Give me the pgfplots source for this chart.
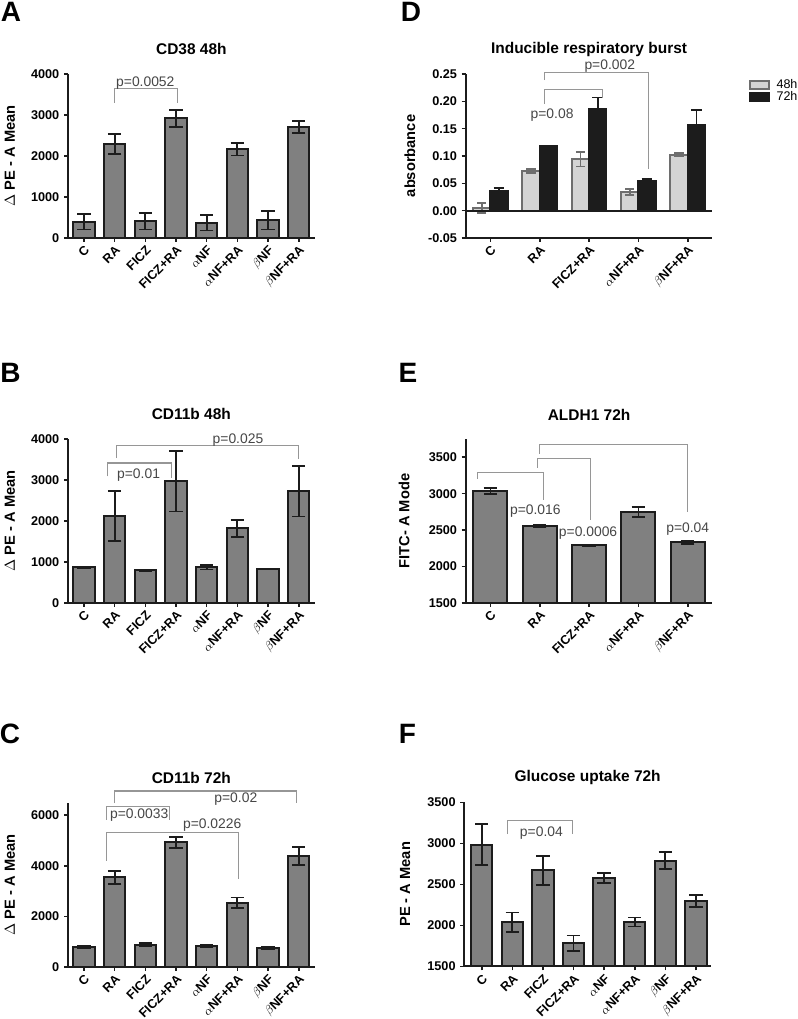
\documentclass[border=0pt]{standalone}
\usepackage{pgfplots}
\pgfplotsset{compat=1.18}
\usepackage{fontspec}
\setmainfont{Liberation Sans}

\definecolor{barfill}{RGB}{128,128,128}
\definecolor{baredge}{RGB}{28,28,28}
\definecolor{brk}{RGB}{150,150,150}
\definecolor{ptxt}{RGB}{70,70,70}
\definecolor{lightbar}{RGB}{212,212,212}
\definecolor{lightedge}{RGB}{110,110,110}

\newcommand\tickfont{\fontsize{9.5}{10}\selectfont\bfseries}
\newcommand\pfont{\fontsize{10.4}{11}\selectfont}
\newcommand\panelfont{\fontsize{21}{21}\selectfont\bfseries}

\tikzset{brkline/.style={brk, line width=0.8pt}}

\pgfplotsset{
  panel/.style={
    scale only axis, width=185pt, height=123pt,
    axis lines=left, axis line style={-, line width=1.3pt, baredge},
    tick align=outside, major tick length=3pt,
    tick style={line width=1.2pt, baredge},
    clip mode=individual,
    title style={font=\fontsize{11.6}{12}\selectfont\bfseries, at={(axis description cs:0.5,1)}, anchor=center, yshift=12.4pt},
    ylabel style={font=\fontsize{11}{12}\selectfont\bfseries, at={(axis description cs:-0.236,0.5)}, anchor=center},
    yticklabel style={font=\tickfont},
    xticklabel style={font=\tickfont, rotate=45, anchor=north east, inner sep=1.5pt},
  },
  eight/.style={xmin=-0.52, xmax=7.52, xtick={0,...,7},
    xticklabels={C, RA, FICZ, FICZ+RA, $\alpha$NF, $\alpha$NF+RA, $\beta$NF, $\beta$NF+RA}},
  five/.style={xmin=-0.5, xmax=4.5, xtick={0,...,4},
    xticklabels={C, RA, FICZ+RA, $\alpha$NF+RA, $\beta$NF+RA}},
  mybar/.style={ybar, bar width=#1, fill=barfill, draw=baredge, line width=1.5pt,
    error bars/.cd, y dir=both, y explicit, error mark=|,
    error bar style={line width=1.3pt, baredge},
    error mark options={line width=1.3pt, baredge, mark size=5pt}},
  mybar/.default=0.7,
}

\begin{document}
\begin{tikzpicture}
\path[use as bounding box] (0,0) rectangle (598.5pt,764.25pt);

% A
\begin{axis}[panel, eight, at={(51pt,585.75pt)}, anchor=south west,
  title={CD38 48h}, ylabel={$\Delta$ PE - A Mean},
  ymin=0, ymax=4000, ytick={0,1000,2000,3000,4000}, yticklabels={0,1000,2000,3000,4000}]
\addplot[mybar] table[x=x, y=y, y error=e] {
x y e
0 400 190
1 2300 245
2 405 200
3 2915 215
4 370 185
5 2165 155
6 430 220
7 2705 140
};
\draw[brkline] (axis cs:1,3300) -- (axis cs:1,3650) -- (axis cs:3.05,3650) -- (axis cs:3.05,3300);
\node[ptxt, font=\pfont, anchor=base] at (axis cs:2,3690) {p=0.0052};
\end{axis}

% B
\begin{axis}[panel, eight, at={(51pt,312pt)}, anchor=south west,
  title={CD11b 48h}, ylabel={$\Delta$ PE - A Mean},
  ymin=0, ymax=4000, ytick={0,1000,2000,3000,4000}, yticklabels={0,1000,2000,3000,4000}]
\addplot[mybar] table[x=x, y=y, y error=e] {
x y e
0 870 8
1 2130 610
2 800 15
3 2970 740
4 870 50
5 1820 210
6 830 8
7 2730 620
};
\draw[brkline] (axis cs:0.78,3088) -- (axis cs:0.78,3414) -- (axis cs:2.84,3414) -- (axis cs:2.84,3047);
\node[ptxt, font=\pfont] at (axis cs:1.78,3120) {p=0.01};
\draw[brkline] (axis cs:1.07,3535) -- (axis cs:1.07,3845) -- (axis cs:7,3845) -- (axis cs:7,3511);
\node[ptxt, font=\pfont, anchor=base] at (axis cs:5.02,3885) {p=0.025};
\end{axis}

% C
\begin{axis}[panel, eight, at={(51pt,39pt)}, anchor=south west,
  title={CD11b 72h}, ylabel={$\Delta$ PE - A Mean},
  ymin=0, ymax=6480, ytick={0,2000,4000,6000}, yticklabels={0,2000,4000,6000}]
\addplot[mybar] table[x=x, y=y, y error=e] {
x y e
0 800 40
1 3540 250
2 880 60
3 4930 220
4 840 50
5 2540 210
6 750 50
7 4390 360
};
\draw[brkline] (axis cs:1,6470) -- (axis cs:1,6955) -- (axis cs:6.92,6955) -- (axis cs:6.92,6470);
\node[ptxt, font=\pfont] at (axis cs:4.95,6615) {p=0.02};
\draw[brkline] (axis cs:0.73,5810) -- (axis cs:0.73,6340) -- (axis cs:2.8,6340) -- (axis cs:2.8,5810);
\node[ptxt, font=\pfont] at (axis cs:1.8,5990) {p=0.0033};
\draw[brkline] (axis cs:0.72,4200) -- (axis cs:0.72,5310) -- (axis cs:5.03,5310) -- (axis cs:5.03,3480);
\node[ptxt, font=\pfont] at (axis cs:4.18,5600) {p=0.0226};
\end{axis}

% D  (48h bars at group-0.175, 72h bars at group+0.175)
\begin{axis}[panel, five, at={(349.3pt,585.75pt)}, anchor=south west,
  title={Inducible respiratory burst}, ylabel={absorbance},
  ylabel style={at={(axis description cs:-0.226,0.5)}},
  ymin=-0.05, ymax=0.25, ytick={-0.05,0,0.05,0.1,0.15,0.2,0.25},
  yticklabels={-0.05,0.00,0.05,0.10,0.15,0.20,0.25},
  legend style={at={(axis description cs:1.1476,0.972)}, anchor=north west,
    draw=none, fill=none, font=\fontsize{9.4}{10}\selectfont, row sep=0pt, inner sep=0pt,
    nodes={inner sep=0.6pt, text height=6.8pt, text depth=1pt}},
  legend image code/.code={\draw[#1] (0pt,-3.2pt) rectangle (14pt,3.2pt); \path (18.5pt,0pt);}]
\addplot[ybar, bar width=0.35, bar shift=0pt, fill=lightbar, draw=lightedge, line width=1.5pt,
  error bars/.cd, y dir=both, y explicit, error mark=|,
  error bar style={line width=1.3pt, lightedge},
  error mark options={line width=1.3pt, lightedge, mark size=3.5pt}]
  table[x=x, y=y, y error=e] {
x y e
-0.175 0.005 0.0095
0.825 0.073 0.0035
1.825 0.094 0.013
2.825 0.034 0.0055
3.825 0.1025 0.003
};
\addplot[ybar, bar width=0.35, bar shift=0pt, fill=baredge, draw=baredge, line width=1.5pt,
  error bars/.cd, y dir=both, y explicit, error mark=|,
  error bar style={line width=1.3pt, baredge},
  error mark options={line width=1.3pt, baredge, mark size=4pt}]
  table[x=x, y=y, y error=e] {
x y e
0.175 0.0366 0.005
1.175 0.1183 0.001
2.175 0.186 0.021
3.175 0.055 0.003
4.175 0.157 0.027
};
\legend{48h,72h}
\draw[baredge, line width=1.3pt] (axis cs:-0.5,0) -- (axis cs:4.5,0);
\draw[brkline] (axis cs:1.09,0.239) -- (axis cs:1.09,0.253) -- (axis cs:3.2,0.253) -- (axis cs:3.2,0.0756);
\node[ptxt, font=\pfont] at (axis cs:2.42,0.264) {p=0.002};
\draw[brkline] (axis cs:1.09,0.196) -- (axis cs:1.09,0.222) -- (axis cs:2.27,0.222) -- (axis cs:2.27,0.2055);
\node[ptxt, font=\pfont] at (axis cs:1.25,0.175) {p=0.08};
\end{axis}

% E
\begin{axis}[panel, five, at={(349.3pt,312pt)}, anchor=south west,
  title={ALDH1 72h}, ylabel={FITC- A Mode},
  ylabel style={at={(axis description cs:-0.25,0.5)}},
  ymin=1500, ymax=3750, ytick={1500,2000,2500,3000,3500}, yticklabels={1500,2000,2500,3000,3500}]
\addplot[mybar=0.69] table[x=x, y=y, y error=e] {
x y e
0 3035 40
1 2555 10
2 2289 15
3 2748 70
4 2330 20
};
\draw[brkline] (axis cs:-0.27,3202) -- (axis cs:-0.27,3294) -- (axis cs:1.08,3294) -- (axis cs:1.08,2908);
\node[ptxt, font=\pfont] at (axis cs:0.91,2757) {p=0.016};
\draw[brkline] (axis cs:0.96,3353) -- (axis cs:0.96,3477) -- (axis cs:2.03,3477) -- (axis cs:2.03,2633);
\node[ptxt, font=\pfont] at (axis cs:1.98,2459) {p=0.0006};
\draw[brkline] (axis cs:1,3550) -- (axis cs:1,3679) -- (axis cs:4,3679) -- (axis cs:4,2748);
\node[ptxt, font=\pfont] at (axis cs:4,2514) {p=0.04};
\end{axis}

% F
\begin{axis}[panel, eight, xmin=-0.57, xmax=7.49, at={(348.2pt,39.5pt)}, anchor=south west,
  title={Glucose uptake 72h}, ylabel={PE - A Mean},
  ylabel style={at={(axis description cs:-0.24,0.5)}},
  ymin=1500, ymax=3500, ytick={1500,2000,2500,3000,3500}, yticklabels={1500,2000,2500,3000,3500}]
\addplot[mybar] table[x=x, y=y, y error=e] {
x y e
0 2985 250
1 2036 120
2 2670 178
3 1782 94
4 2580 62
5 2040 55
6 2790 105
7 2293 73
};
\draw[brkline] (axis cs:0.85,3111) -- (axis cs:0.85,3283) -- (axis cs:2.98,3283) -- (axis cs:2.98,3111);
\node[ptxt, font=\pfont] at (axis cs:1.95,3122) {p=0.04};
\end{axis}

% panel letters
\node[font=\panelfont] at (8.25pt,755.25pt) {A};
\node[font=\panelfont] at (308.25pt,755.25pt) {D};
\node[font=\panelfont] at (7.9pt,484.9pt) {B};
\node[font=\panelfont] at (306pt,484.5pt) {E};
\node[font=\panelfont] at (7.5pt,213.75pt) {C};
\node[font=\panelfont] at (305.6pt,213.75pt) {F};
\end{tikzpicture}
\end{document}
